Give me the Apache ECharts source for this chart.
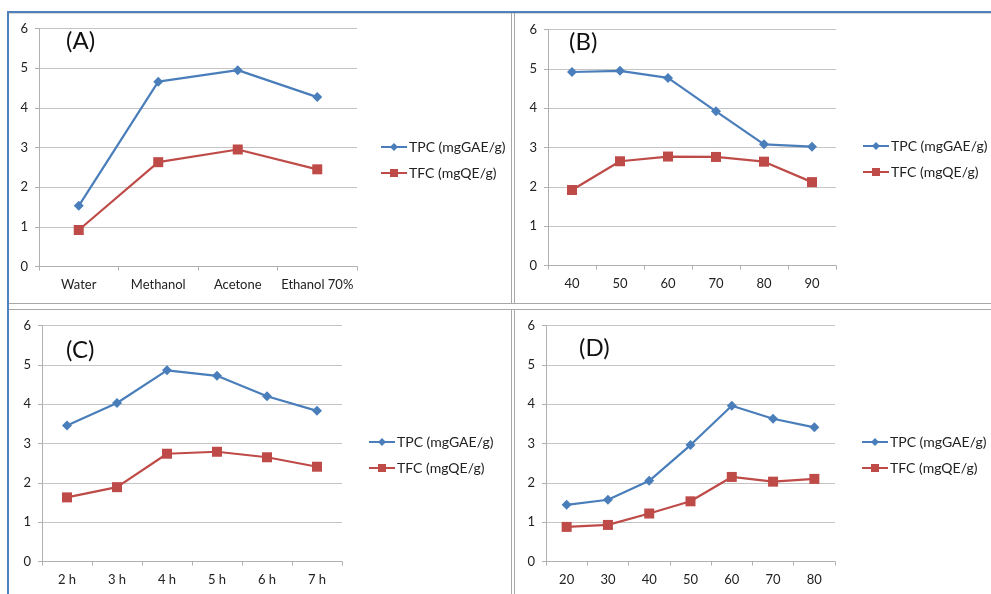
<!DOCTYPE html>
<html>
<head>
<meta charset="utf-8">
<script src="https://cdn.jsdelivr.net/npm/echarts@6/dist/echarts.min.js"></script>
<style>
  html, body { margin: 0; padding: 0; background: #fff; }
  #chart { width: 991px; height: 594px; }
</style>
</head>
<body>
<div id="chart"></div>
<script>
// panel categories
var catsA = ['Water', 'Methanol', 'Acetone', 'Ethanol 70%'];
var catsB = ['40', '50', '60', '70', '80', '90'];
var catsC = ['2 h', '3 h', '4 h', '5 h', '6 h', '7 h'];
var catsD = ['20', '30', '40', '50', '60', '70', '80'];

// TPC (mgGAE/g)
var tpcA = [1.53, 4.66, 4.95, 4.27];
var tpcB = [4.92, 4.95, 4.77, 3.92, 3.08, 3.02];
var tpcC = [3.46, 4.03, 4.86, 4.72, 4.20, 3.83];
var tpcD = [1.44, 1.57, 2.05, 2.96, 3.96, 3.63, 3.41];

// TFC (mgQE/g)
var tfcA = [0.92, 2.63, 2.95, 2.45];
var tfcB = [1.92, 2.65, 2.77, 2.76, 2.64, 2.12];
var tfcC = [1.63, 1.89, 2.74, 2.79, 2.65, 2.41];
var tfcD = [0.88, 0.93, 1.22, 1.53, 2.15, 2.03, 2.10];

var panelLabels = ['(A)', '(B)', '(C)', '(D)'];
var yTicks = [0, 1, 2, 3, 4, 5, 6];

var TPC = 'TPC (mgGAE/g)', TFC = 'TFC (mgQE/g)';
var blue = '#4a7ebb', red = '#be4b48';
var font = 'Lato, "Open Sans", sans-serif';

var panels = [
  { cats: catsA, tpc: tpcA, tfc: tfcA, grid: { left: 39, top: 28.5, width: 318, height: 238 }, leg: [375, 135], lab: [66, 29] },
  { cats: catsB, tpc: tpcB, tfc: tfcB, grid: { left: 548, top: 29.5, width: 288, height: 236 }, leg: [857, 134], lab: [569, 30] },
  { cats: catsC, tpc: tpcC, tfc: tfcC, grid: { left: 42, top: 325.5, width: 300, height: 236 }, leg: [363, 430], lab: [66, 338] },
  { cats: catsD, tpc: tpcD, tfc: tfcD, grid: { left: 546, top: 325.5, width: 289, height: 236 }, leg: [856, 430], lab: [579, 336] }
];

var grids = [], xAxes = [], yAxes = [], series = [], legends = [], titles = [];
panels.forEach(function (p, i) {
  grids.push(p.grid);
  xAxes.push({
    type: 'category', gridIndex: i, data: p.cats, boundaryGap: true,
    axisLine: { lineStyle: { color: '#b0b0b0' } },
    axisTick: { show: true, length: 4, lineStyle: { color: '#b0b0b0' } },
    axisLabel: { color: '#222', fontSize: 13, fontFamily: font, margin: 12, interval: 0 }
  });
  yAxes.push({
    type: 'value', gridIndex: i, min: yTicks[0], max: yTicks[yTicks.length - 1], interval: 1,
    axisLine: { show: true, lineStyle: { color: '#b0b0b0' } },
    axisTick: { show: true, length: 4, lineStyle: { color: '#b0b0b0' } },
    axisLabel: { color: '#222', fontSize: 13, fontFamily: font, margin: 11 },
    splitLine: { lineStyle: { color: '#c4c4c4' } }
  });
  series.push({
    name: TPC, type: 'line', xAxisIndex: i, yAxisIndex: i, data: p.tpc,
    symbol: 'diamond', symbolSize: 10,
    lineStyle: { color: blue, width: 2.2 }, itemStyle: { color: blue }
  });
  series.push({
    name: TFC, type: 'line', xAxisIndex: i, yAxisIndex: i, data: p.tfc,
    symbol: 'rect', symbolSize: 10,
    lineStyle: { color: red, width: 2.2 }, itemStyle: { color: red }
  });
  legends.push({
    data: [TPC, TFC], orient: 'vertical', left: p.leg[0], top: p.leg[1],
    itemWidth: 26, itemHeight: 10, itemGap: 12,
    textStyle: { color: '#222', fontSize: 14, fontFamily: font, padding: [0, 0, 0, -3] }
  });
  titles.push({
    text: panelLabels[i], left: p.lab[0], top: p.lab[1], padding: 0,
    textStyle: { color: '#111', fontSize: 24, fontWeight: 'normal', fontFamily: font }
  });
});

var gray = '#a8a8a8';
var graphics = [
  // outer blue frame
  { type: 'line', shape: { x1: 7, y1: 12, x2: 991, y2: 12 }, style: { stroke: '#4f81bd', lineWidth: 2 } },
  { type: 'line', shape: { x1: 8, y1: 11, x2: 8, y2: 594 }, style: { stroke: '#4f81bd', lineWidth: 2 } },
  { type: 'line', shape: { x1: 9, y1: 13.5, x2: 991, y2: 13.5 }, style: { stroke: '#d8d8d8', lineWidth: 1 } },
  // panel separators
  { type: 'line', shape: { x1: 9, y1: 303.5, x2: 991, y2: 303.5 }, style: { stroke: gray, lineWidth: 1 } },
  { type: 'line', shape: { x1: 9, y1: 309.5, x2: 991, y2: 309.5 }, style: { stroke: gray, lineWidth: 1 } },
  { type: 'line', shape: { x1: 511.5, y1: 13, x2: 511.5, y2: 303 }, style: { stroke: gray, lineWidth: 1 } },
  { type: 'line', shape: { x1: 514.5, y1: 13, x2: 514.5, y2: 303 }, style: { stroke: gray, lineWidth: 1 } },
  { type: 'line', shape: { x1: 511.5, y1: 310, x2: 511.5, y2: 594 }, style: { stroke: gray, lineWidth: 1 } },
  { type: 'line', shape: { x1: 514.5, y1: 310, x2: 514.5, y2: 594 }, style: { stroke: gray, lineWidth: 1 } }
];

var chart = echarts.init(document.getElementById('chart'));
chart.setOption({
  animation: false,
  backgroundColor: '#fff',
  title: titles,
  grid: grids,
  xAxis: xAxes,
  yAxis: yAxes,
  legend: legends,
  series: series,
  graphic: graphics
});
</script>
</body>
</html>
